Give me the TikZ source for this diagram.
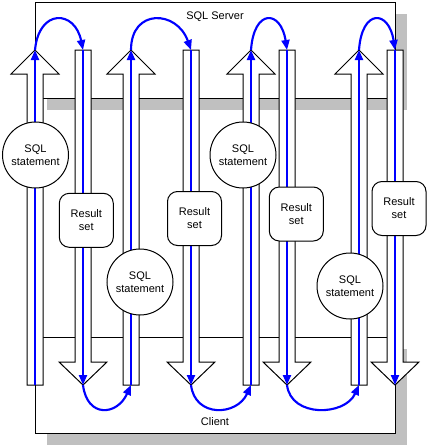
\documentclass[tikz,border=0pt]{standalone}
\usepackage{fontspec}
\setmainfont{Liberation Sans}
\usetikzlibrary{arrows.meta}
\definecolor{shadowgray}{RGB}{192,192,192}
\definecolor{flowblue}{RGB}{0,0,255}
\begin{document}
\begin{tikzpicture}[x=0.75pt,y=-0.75pt,
  every node/.style={font=\fontsize{8.25pt}{9.75pt}\selectfont},
  boxline/.style={draw=black,line width=0.75pt},
  shadowfill/.style={fill=shadowgray,draw=none},
  blockarrow/.style={boxline,fill=white,line join=miter},
  flow/.style={draw=flowblue,line width=1.6pt,-{Triangle[length=7.5pt,width=6pt]}},
  sqlnode/.style={circle,boxline,fill=white,minimum size=49.5pt,inner sep=0pt,align=center},
  resultnode/.style={rectangle,rounded corners=7.5pt,boxline,fill=white,minimum width=40.5pt,minimum height=40.5pt,inner sep=0pt,align=center},
  titletext/.style={inner sep=0pt,anchor=base}
]
\path[use as bounding box] (0,0) rectangle (426,447);

% server and client panels with shadows
\fill[shadowfill] (47,14) rectangle (407,110);
\draw[boxline,fill=white] (35,2) rectangle (395,98);
\fill[shadowfill] (47,349) rectangle (407,445);
\draw[boxline,fill=white] (35,337) rectangle (395,433);

% block arrows
\foreach \x in {35,131,251,359} {
  \draw[blockarrow] (\x-8,385) -- (\x-8,74) -- (\x-24,74) -- (\x,50) -- (\x+24,74) -- (\x+8,74) -- (\x+8,385) -- cycle;
}
\foreach \x in {83,191,287,395} {
  \draw[blockarrow] (\x-8,50) -- (\x-8,362) -- (\x-24,362) -- (\x,385) -- (\x+24,362) -- (\x+8,362) -- (\x+8,50) -- cycle;
}

% coordinates of arrow ends
\foreach \i/\u/\d in {1/35/83, 2/131/191, 3/251/287, 4/359/395} {
  \coordinate (uptop\i) at (\u,50);
  \coordinate (upbot\i) at (\u,385);
  \coordinate (downtop\i) at (\d,50);
  \coordinate (downtip\i) at (\d,385);
}

% blue flow lines
\foreach \i in {1,2,3,4} {
  \draw[flow] (upbot\i) -- (uptop\i);
  \draw[flow] (downtop\i) -- (downtip\i);
}
\draw[flow] (uptop1) .. controls +(4,-42) and +(-8,-40) .. (downtop1);
\draw[flow] (uptop2) .. controls +(0,-42) and +(-14,-40) .. (downtop2);
\draw[flow] (uptop3) .. controls +(3,-42) and +(-6,-40) .. (downtop3);
\draw[flow] (uptop4) .. controls +(3,-42) and +(-6,-40) .. (downtop4);
\draw[flow] (downtip1) .. controls +(4,33) and +(-14,31) .. (upbot2);
\draw[flow] (downtip2) .. controls +(4,33) and +(-14,31) .. (upbot3);
\draw[flow] (downtip3) .. controls +(4,33) and +(-14,31) .. (upbot4);

% SQL statements and result sets
\node[sqlnode] (sql1) at (35.5,155) {SQL\\statement};
\node[sqlnode] (sql2) at (140,282) {SQL\\statement};
\node[sqlnode] (sql3) at (243,155) {SQL\\statement};
\node[sqlnode] (sql4) at (350,286) {SQL\\statement};
\node[resultnode] (res1) at (86.3,220.3) {Result\\set};
\node[resultnode] (res2) at (194.5,218.5) {Result\\set};
\node[resultnode] (res3) at (296.3,214) {Result\\set};
\node[resultnode] (res4) at (399,208.5) {Result\\set};

% panel titles
\node[titletext] (servertitle) at (215,19) {SQL Server};
\node[titletext] (clienttitle) at (215,425.5) {Client};
\end{tikzpicture}
\end{document}
